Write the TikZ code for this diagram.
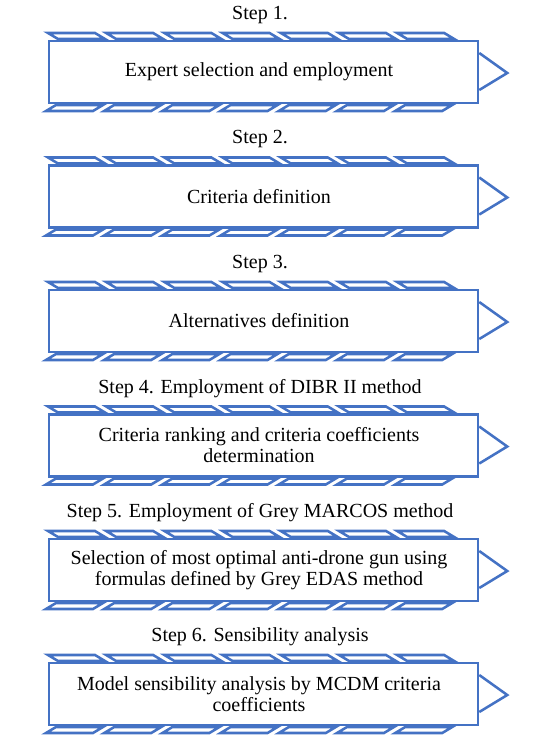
\documentclass[tikz,border=0pt]{standalone}
\usepackage{fontspec}
\setmainfont{Liberation Serif}
\definecolor{stepblue}{HTML}{4472C4}
\tikzset{
  frame/.style={draw=stepblue, line width=1.9pt, fill=white, inner sep=0pt,
    minimum width=321.75pt, minimum height=46.5pt},
  tread/.style={draw=stepblue, line width=1.9pt, line join=miter},
  steptext/.style={font=\fontsize{15}{15.75}\selectfont, align=center, inner sep=0pt},
}

\begin{document}
\begin{tikzpicture}[x=0.75pt,y=-0.75pt]
\useasboundingbox (0,0) rectangle (534,742);

\foreach \n/\yt/\lbl/\txt in {
  1/41/{Step 1.}/{Expert selection and employment},
  2/165.5/{Step 2.}/{Criteria definition},
  3/290/{Step 3.}/{Alternatives definition},
  4/414.5/{Step 4. Employment of DIBR II method}/{Criteria ranking and criteria coefficients\\determination},
  5/539/{Step 5. Employment of Grey MARCOS method}/{Selection of most optimal anti-drone gun using\\formulas defined by Grey EDAS method},
  6/663/{Step 6. Sensibility analysis}/{Model sensibility analysis by MCDM criteria\\coefficients}}{
  % treads above and below the box
  \foreach \i in {0,...,6}{
    \pgfmathsetmacro{\a}{48+58.2*\i}
    \draw[tread] (\a,\yt-8) -- ++(47,0) -- ++(10,6) -- ++(-47,0) -- cycle;
    \draw[tread] (\a-2,\yt+70) -- ++(47,0) -- ++(10,-6) -- ++(-47,0) -- cycle;
  }
  \node[frame] (box\n) at (263.5,\yt+31) {};
  \draw[tread] (box\n.east) ++(0,-19) -- ++(28,20) -- ++(-28,17);
  \node[steptext] (step\n) at (260,\yt-26) {\lbl};
  \node[steptext] (text\n) at (259,\yt+31) {\txt};
}
\end{tikzpicture}
\end{document}
